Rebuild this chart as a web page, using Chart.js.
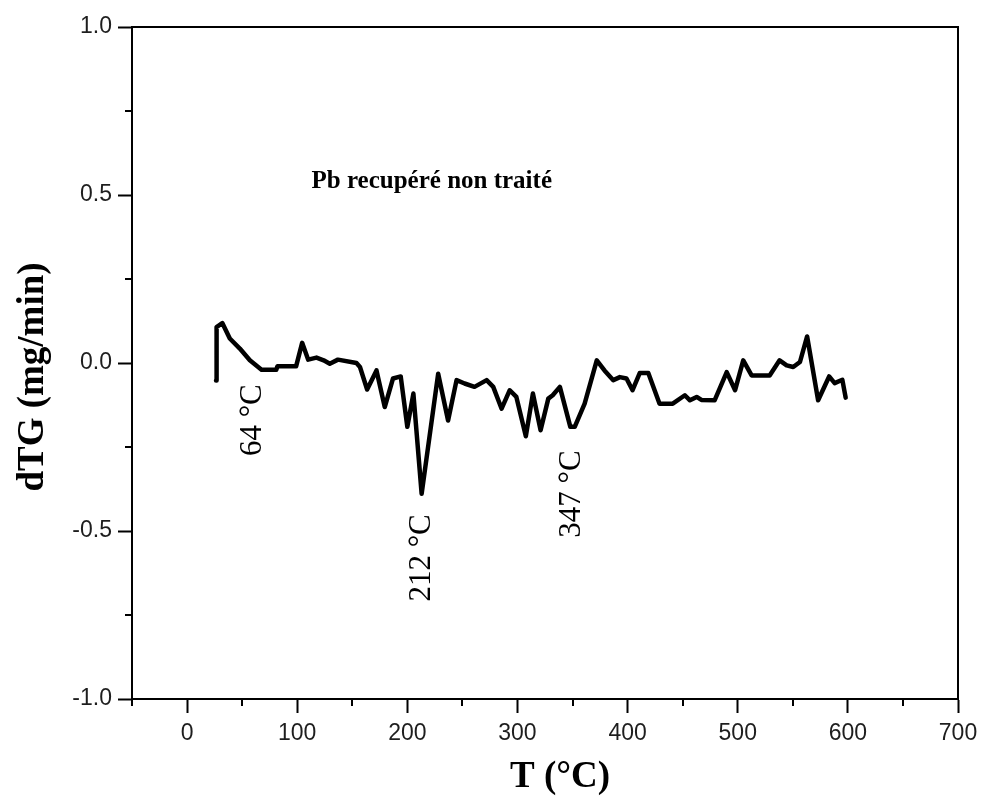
<!DOCTYPE html>
<html>
<head>
<meta charset="utf-8">
<script src="https://cdn.jsdelivr.net/npm/chart.js@4.4.1/dist/chart.umd.min.js"></script>
<style>
  html, body { margin: 0; padding: 0; background: #fff; }
  canvas { display: block; }
</style>
</head>
<body>
<canvas id="dtg" width="985" height="805"></canvas>
<script>
// temperature (°C)
const T = [26.3, 26.8, 32, 38.8, 47.9, 57, 67.6, 81, 82, 99, 104.5, 110, 117.5, 124, 129.6, 137, 153.8, 157,
  163.5, 172, 179.5, 187, 194, 200, 205.5, 213, 228, 237, 244.7, 252, 261, 272, 278, 285.6, 293, 299,
  307.6, 314, 321, 328, 332, 338.5, 348, 352, 361, 372, 379, 387, 393, 399, 404.5, 411, 418.8, 429,
  441, 452, 456.6, 462.7, 467, 479, 490, 497.6, 505, 512.6, 529, 538, 544.4, 550.4, 556.5, 563, 573,
  583, 588, 595, 598];
// dTG (mg/min)
const dTG = [-0.052, 0.107, 0.119, 0.073, 0.043, 0.008, -0.02, -0.02, -0.01, -0.01, 0.06, 0.01, 0.016, 0.008, -0.002, 0.01, 0.0, -0.012,
  -0.079, -0.022, -0.131, -0.046, -0.04, -0.19, -0.091, -0.389, -0.032, -0.171, -0.051, -0.061, -0.071, -0.051, -0.071, -0.136, -0.081, -0.101,
  -0.218, -0.091, -0.2, -0.106, -0.096, -0.071, -0.19, -0.19, -0.121, 0.008, -0.022, -0.051, -0.042, -0.046, -0.081, -0.03, -0.03, -0.121,
  -0.121, -0.096, -0.111, -0.101, -0.11, -0.111, -0.027, -0.081, 0.008, -0.037, -0.037, 0.008, -0.007, -0.012, 0.003, 0.079, -0.111,
  -0.04, -0.06, -0.05, -0.103];

// axis ticks
const xMajor = [0, 100, 200, 300, 400, 500, 600, 700];
const xMinor = [-50, 50, 150, 250, 350, 450, 550, 650];
const yMajor = [-1.0, -0.5, 0.0, 0.5, 1.0];
const yMinor = [-0.75, -0.25, 0.25, 0.75];

// peak labels (rotated), placed at data coordinates
const peakText = ['64 °C', '212 °C', '347 °C'];
const peakT = [59.7, 212.9, 349];
const peakY = [-0.17, -0.58, -0.39];

const sampleName = 'Pb recupéré non traité';

const SERIF = '"Liberation Serif", "Times New Roman", serif';
const SANS = '"Liberation Sans", Arial, sans-serif';

// minor ticks, frame and texts
const decor = {
    id: 'decor',
    afterDraw(chart) {
        const ctx = chart.ctx;
        const a = chart.chartArea;
        const xs = chart.scales.x, ys = chart.scales.y;
        ctx.save();
        ctx.strokeStyle = '#000';
        ctx.lineWidth = 2;
        ctx.beginPath();
        // top + right border
        ctx.moveTo(a.left, a.top);
        ctx.lineTo(a.right, a.top);
        ctx.lineTo(a.right, a.bottom);
        xMinor.forEach(v => {
            const px = Math.round(xs.getPixelForValue(v));
            ctx.moveTo(px, a.bottom);
            ctx.lineTo(px, a.bottom + 7);
        });
        yMinor.forEach(v => {
            const py = Math.round(ys.getPixelForValue(v));
            ctx.moveTo(a.left - 7, py);
            ctx.lineTo(a.left, py);
        });
        ctx.stroke();

        ctx.fillStyle = '#000';
        // sample name
        ctx.font = 'bold 25px ' + SERIF;
        ctx.textAlign = 'left';
        ctx.textBaseline = 'middle';
        ctx.fillText(sampleName, xs.getPixelForValue(113), ys.getPixelForValue(0.54));

        // peak temperatures
        ctx.font = '31px ' + SERIF;
        ctx.textAlign = 'center';
        peakText.forEach((t, i) => {
            ctx.save();
            ctx.translate(xs.getPixelForValue(peakT[i]), ys.getPixelForValue(peakY[i]));
            ctx.rotate(-Math.PI / 2);
            ctx.fillText(t, 0, 0);
            ctx.restore();
        });

        // axis titles
        ctx.font = 'bold 37px ' + SERIF;
        ctx.fillText('T (°C)', 560, 777);
        ctx.save();
        ctx.translate(33, 377);
        ctx.rotate(-Math.PI / 2);
        ctx.fillText('dTG (mg/min)', 0, 0);
        ctx.restore();
        ctx.restore();
    }
};

new Chart(document.getElementById('dtg'), {
    type: 'line',
    data: {
        datasets: [{
            label: sampleName,
            data: T.map((t, i) => ({ x: t, y: dTG[i] })),
            borderColor: '#000',
            borderWidth: 4.5,
            borderJoinStyle: 'round',
            borderCapStyle: 'round',
            pointRadius: 0,
            tension: 0,
            fill: false
        }]
    },
    options: {
        responsive: false,
        animation: false,
        layout: { padding: { top: 27, right: 27, left: 0, bottom: 0 } },
        plugins: { legend: { display: false }, tooltip: { enabled: false } },
        scales: {
            x: {
                type: 'linear',
                min: -50,
                max: 700,
                afterBuildTicks: s => { s.ticks = xMajor.map(v => ({ value: v })); },
                afterFit: s => { s.height = 106; },
                ticks: {
                    autoSkip: false,
                    maxRotation: 0,
                    padding: 7,
                    color: '#1e1e1e',
                    font: { family: SANS, size: 23 },
                    callback: v => String(v)
                },
                grid: {
                    drawOnChartArea: false,
                    tickLength: 14,
                    tickWidth: 2,
                    tickColor: '#000'
                },
                border: { color: '#000', width: 2 }
            },
            y: {
                type: 'linear',
                min: -1,
                max: 1,
                afterBuildTicks: s => { s.ticks = yMajor.map(v => ({ value: v })); },
                afterFit: s => { s.width = 132; },
                ticks: {
                    autoSkip: false,
                    padding: 6,
                    color: '#1e1e1e',
                    font: { family: SANS, size: 23 },
                    callback: v => Number(v).toFixed(1)
                },
                grid: {
                    drawOnChartArea: false,
                    tickLength: 14,
                    tickWidth: 2,
                    tickColor: '#000'
                },
                border: { color: '#000', width: 2 }
            }
        }
    },
    plugins: [decor]
});
</script>
</body>
</html>
